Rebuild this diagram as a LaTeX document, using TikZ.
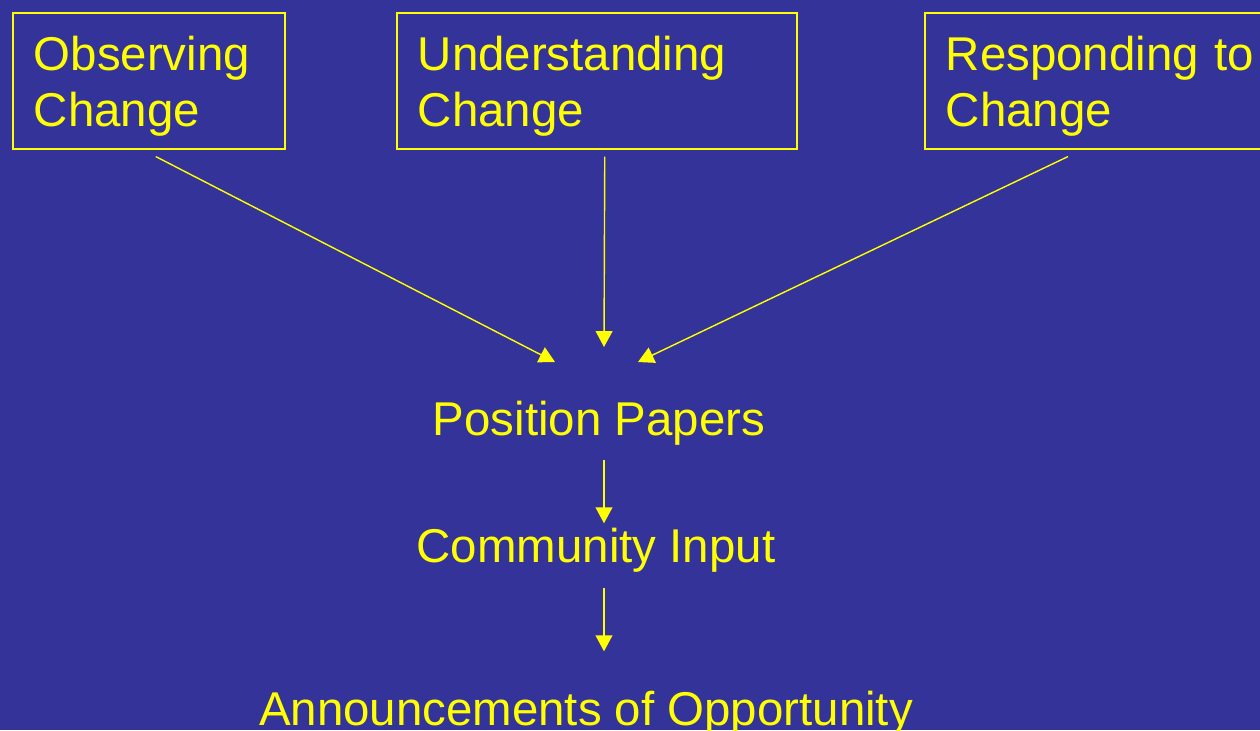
\documentclass[tikz,border=0pt]{standalone}
\usepackage{fontspec}
\setmainfont{Liberation Sans}
\usetikzlibrary{arrows.meta,calc}

\definecolor{slide}{HTML}{333399}
\definecolor{ink}{HTML}{FFFF00}

\tikzset{
    panel/.style={draw=ink, line width=0.9pt, anchor=north west, align=left,
        inner xsep=0.42cm, minimum height=2.72cm, font=\fontsize{27}{32}\selectfont,
        execute at begin node=\rule{0pt}{25.5pt}},
    stage/.style={anchor=base, inner sep=0pt, font=\fontsize{27}{32}\selectfont},
    flow/.style={draw=ink, line width=0.8pt, -{Triangle[length=9pt,width=9.5pt]}}
}

\begin{document}
\begin{tikzpicture}[x=0.02cm, y=-0.02cm, text=ink]
        \fill[slide] (0,0) rectangle (1260,730);
        \useasboundingbox (0,0) rectangle (1260,730);

        % three themes along the top
        \node[panel, text width=4.6cm] (obs) at (12,12) {Observing\\Change};
        \node[panel, text width=7.16cm] (und) at (396,12) {Understanding\\Change};
        \node[panel, text width=6.68cm] (res) at (924,12) {Responding to\\Change};

        % the chain below
        \node[stage] (pos) at (599,435) {Position Papers};
        \node[stage] (com) at (596,562) {Community Input};
        \node[stage] (ann) at (586,725) {Announcements of Opportunity};

        \coordinate (spine) at (604,0);
        \coordinate (inL) at (555,362);
        \coordinate (inM) at (604,347);
        \coordinate (inR) at (638,362);

        \draw[flow] ($(obs.south)+(7,7)$) -- (inL);
        \draw[flow] ($(und.south)+(8,7)$) -- (inM);
        \draw[flow] ($(res.south west)+(144,7)$) -- (inR);
        \draw[flow, shorten <=0.3cm, shorten >=0.08cm] (pos.south -| spine) -- (com.north -| spine);
        \draw[flow, shorten <=0.32cm, shorten >=0.78cm] (com.south -| spine) -- (ann.north -| spine);
    \end{tikzpicture}
\end{document}
